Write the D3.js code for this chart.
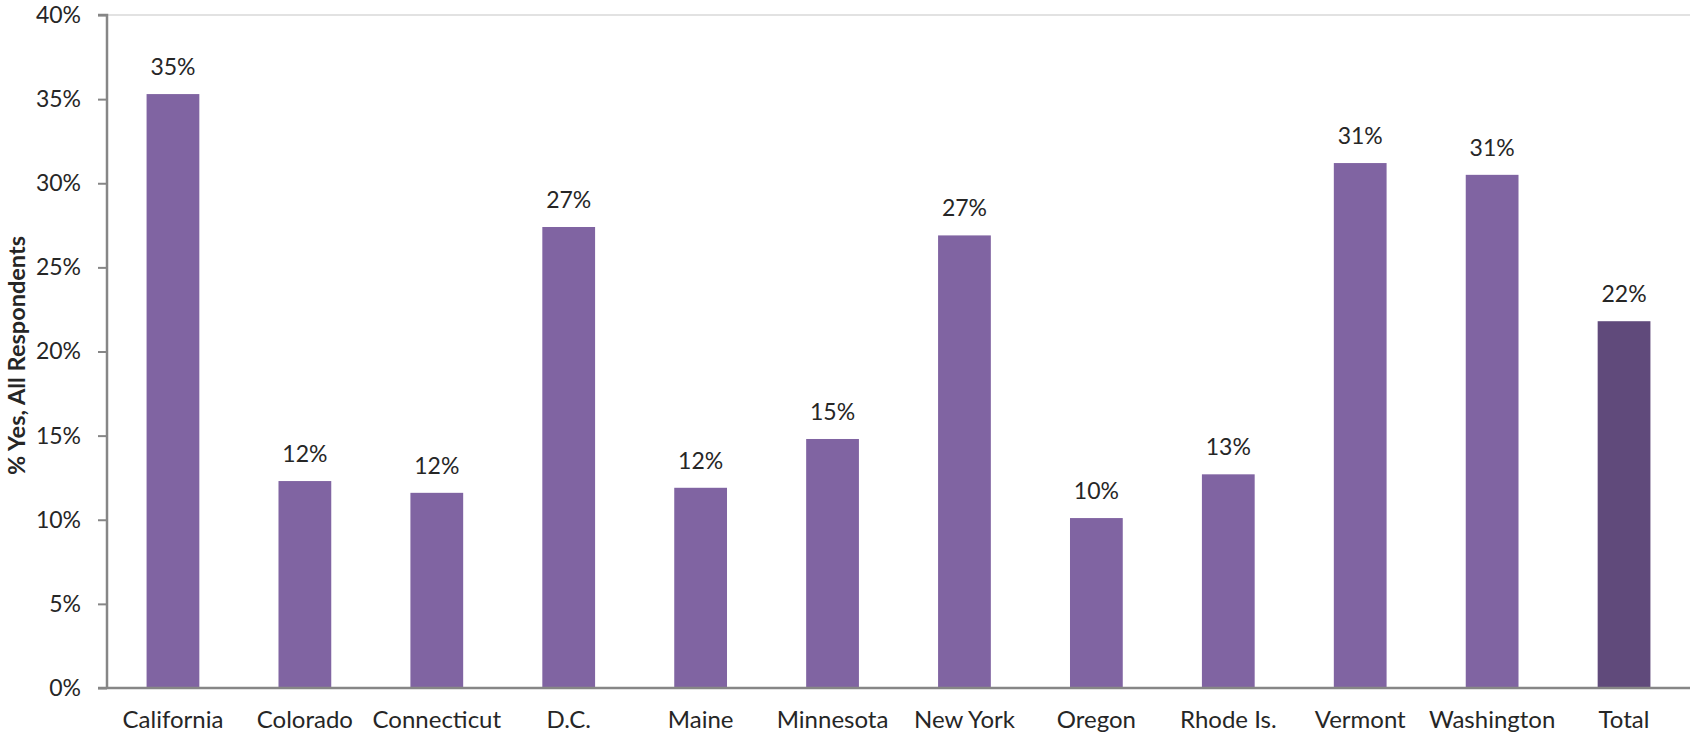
<!DOCTYPE html>
<html>
<head>
<meta charset="utf-8">
<script src="https://cdn.jsdelivr.net/npm/d3@7"></script>
<style>
  html, body { margin: 0; padding: 0; background: #fff; }
  svg { display: block; font-family: Lato, "Open Sans", sans-serif; }
</style>
</head>
<body>
<svg id="chart" width="1690" height="735"></svg>
<script>
// Share answering "yes", by state
const categories = ["California", "Colorado", "Connecticut", "D.C.", "Maine", "Minnesota",
                    "New York", "Oregon", "Rhode Is.", "Vermont", "Washington", "Total"];
const values = [35.3, 12.3, 11.6, 27.4, 11.9, 14.8, 26.9, 10.1, 12.7, 31.2, 30.5, 21.8];
const labels = ["35%", "12%", "12%", "27%", "12%", "15%", "27%", "10%", "13%", "31%", "31%", "22%"];
const yTicks = [0, 5, 10, 15, 20, 25, 30, 35, 40];
const yTitle = "% Yes, All Respondents";

const svg = d3.select("#chart");
const margin = { left: 107, right: 0, top: 15, bottom: 47 };
const W = 1690, H = 735;

const x = d3.scaleBand()
  .domain(categories)
  .range([margin.left, W - margin.right])
  .paddingInner(0.6)
  .paddingOuter(0.3);

const y = d3.scaleLinear()
  .domain([0, 40])
  .range([H - margin.bottom, margin.top]);

// top gridline
svg.append("line")
  .attr("x1", margin.left).attr("x2", W)
  .attr("y1", y(40)).attr("y2", y(40))
  .attr("stroke", "#d9d9d9").attr("stroke-width", 1.5);

// bars
svg.append("g").selectAll("rect")
  .data(categories)
  .join("rect")
  .attr("x", d => x(d))
  .attr("width", x.bandwidth())
  .attr("y", (d, i) => y(values[i]))
  .attr("height", (d, i) => y(0) - y(values[i]))
  .attr("fill", d => d === "Total" ? "#604a7b" : "#8064a2");

// value labels
svg.append("g").selectAll("text")
  .data(categories)
  .join("text")
  .attr("x", d => x(d) + x.bandwidth() / 2)
  .attr("y", (d, i) => y(values[i]) - 19)
  .attr("text-anchor", "middle")
  .attr("font-size", 23)
  .attr("fill", "#262626")
  .text((d, i) => labels[i]);

// y axis
const yAxis = svg.append("g")
  .attr("transform", `translate(${margin.left},0)`)
  .call(d3.axisLeft(y).tickValues(yTicks).tickFormat(d => d + "%").tickSize(9).tickPadding(17));
yAxis.select(".domain").attr("stroke", "#868686").attr("stroke-width", 2.5);
yAxis.selectAll(".tick line").attr("stroke", "#868686").attr("stroke-width", 2);
yAxis.selectAll(".tick text").attr("font-size", 23).attr("fill", "#262626")
  .attr("font-family", "Lato, 'Open Sans', sans-serif");
yAxis.select(".domain").attr("d", `M-9,${y(40)}H0V${y(0)}`);

// x axis
const xAxis = svg.append("g")
  .attr("transform", `translate(0,${y(0)})`)
  .call(d3.axisBottom(x).tickSize(0).tickPadding(23));
xAxis.select(".domain").attr("stroke", "#868686").attr("stroke-width", 2.5)
  .attr("d", `M${margin.left - 9},0H${W}`);
xAxis.selectAll(".tick text").attr("font-size", 24).attr("fill", "#262626")
  .attr("font-family", "Lato, 'Open Sans', sans-serif");

// y axis title
svg.append("text")
  .attr("transform", `translate(25,${(y(0) + y(40)) / 2 + 4}) rotate(-90)`)
  .attr("text-anchor", "middle")
  .attr("font-size", 23.5)
  .attr("font-weight", "bold")
  .attr("fill", "#262626")
  .text(yTitle);
</script>
</body>
</html>
